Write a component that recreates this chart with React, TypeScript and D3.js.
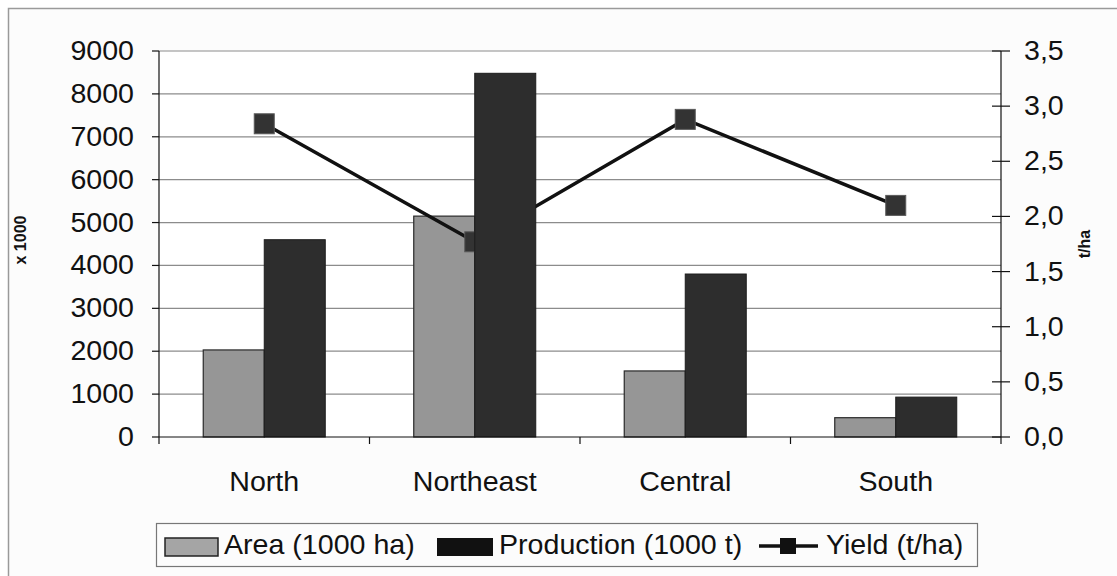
import * as d3 from "d3";

const categories = ["North", "Northeast", "Central", "South"];
const areaValues = [2030, 5150, 1540, 450];
const productionValues = [4600, 8480, 3800, 930];
const yieldValues = [2.84, 1.77, 2.88, 2.1];
const leftTicks = [0, 1000, 2000, 3000, 4000, 5000, 6000, 7000, 8000, 9000];
const rightTicks = [0, 0.5, 1, 1.5, 2, 2.5, 3, 3.5];
const legendLabels = ["Area (1000 ha)", "Production (1000 t)", "Yield (t/ha)"];

const W = 1117;
const H = 576;
const left = 159;
const right = 1001;
const top = 51;
const bottom = 437;
const font = "'Liberation Sans', Arial, sans-serif";
const fs = 27.5;
const sx = 1.04;

// text stretched a little sideways, like the scanned original
const Txt = ({ x, y, anchor = "start", children }: { x: number; y: number; anchor?: string; children: any }) => (
  <text
    transform={`translate(${x},${y}) scale(${sx},1)`}
    textAnchor={anchor}
    fontFamily={font}
    fontSize={fs}
    fill="#111"
  >
    {children}
  </text>
);

export default function App() {
  const x = d3.scaleBand<string>().domain(categories).range([left, right]);
  const yL = d3.scaleLinear().domain([0, 9000]).range([bottom, top]);
  const yR = d3.scaleLinear().domain([0, 3.5]).range([bottom, top]);
  const barW = 61;
  const mid = (c: string) => x(c)! + x.bandwidth() / 2;

  const line = d3
    .line<number>()
    .x((_, i) => mid(categories[i]))
    .y((d) => yR(d));

  const fmtR = (v: number) => v.toFixed(1).replace(".", ",");

  return (
    <svg
      width={W}
      height={H}
      style={{ position: "absolute", left: 0, top: 0, display: "block" }}
    >
      <rect x={0} y={0} width={W} height={H} fill="#fff" />
      <rect x={8.5} y={8.5} width={W + 10} height={H + 10} fill="#fcfcfc" stroke="#9a9a9a" strokeWidth={1.5} />
      <rect x={left} y={top} width={right - left} height={bottom - top} fill="#fff" />

      {/* gridlines */}
      {leftTicks.slice(1).map((t) => (
        <line key={t} x1={left} x2={right} y1={yL(t)} y2={yL(t)} stroke="#8c8c8c" strokeWidth={1.2} />
      ))}

      {/* area bars */}
      {categories.map((c, i) => (
        <rect
          key={c}
          x={mid(c) - barW}
          y={yL(areaValues[i])}
          width={barW}
          height={bottom - yL(areaValues[i])}
          fill="#969696"
          stroke="#2a2a2a"
          strokeWidth={1.2}
        />
      ))}

      {/* yield line (the scan shows it passing behind the production bars) */}
      <path d={line(yieldValues) || ""} fill="none" stroke="#111" strokeWidth={3.5} />
      {yieldValues.map((v, i) => (
        <rect
          key={i}
          x={mid(categories[i]) - 10}
          y={yR(v) - 10}
          width={20}
          height={20}
          fill="#333"
          stroke="#5a5a5a"
          strokeWidth={1}
        />
      ))}

      {/* production bars */}
      {categories.map((c, i) => (
        <rect
          key={c}
          x={mid(c)}
          y={yL(productionValues[i])}
          width={barW}
          height={bottom - yL(productionValues[i])}
          fill="#2d2d2d"
          stroke="#1c1c1c"
          strokeWidth={1}
        />
      ))}

      {/* left axis */}
      <line x1={left} x2={left} y1={top} y2={bottom} stroke="#111" strokeWidth={1.2} />
      {leftTicks.map((t) => (
        <g key={t}>
          <line x1={left - 7} x2={left} y1={yL(t)} y2={yL(t)} stroke="#111" strokeWidth={1.2} />
          <Txt x={134} y={yL(t) + 9} anchor="end">
            {t}
          </Txt>
        </g>
      ))}
      <text
        transform={`translate(26, 240) rotate(-90)`}
        textAnchor="middle"
        fontFamily={font}
        fontSize={16}
        fontWeight="bold"
        fill="#111"
      >
        x 1000
      </text>

      {/* right axis */}
      <line x1={right} x2={right} y1={top} y2={bottom + 7} stroke="#111" strokeWidth={1.2} />
      {rightTicks.map((t) => (
        <g key={t}>
          <line x1={right - 9} x2={right + 9} y1={yR(t)} y2={yR(t)} stroke="#111" strokeWidth={1.2} />
          <Txt x={1024} y={yR(t) + 9}>
            {fmtR(t)}
          </Txt>
        </g>
      ))}
      <text
        transform={`translate(1090, 244) rotate(-90)`}
        textAnchor="middle"
        fontFamily={font}
        fontSize={16}
        fontWeight="bold"
        fill="#111"
      >
        t/ha
      </text>

      {/* bottom axis */}
      <line x1={left} x2={right} y1={bottom} y2={bottom} stroke="#111" strokeWidth={1.2} />
      {categories.map((c) => (
        <g key={c}>
          <line x1={x(c)!} x2={x(c)!} y1={bottom} y2={bottom + 7} stroke="#111" strokeWidth={1.2} />
          <Txt x={mid(c)} y={491} anchor="middle">
            {c}
          </Txt>
        </g>
      ))}

      {/* legend */}
      <rect x={156.5} y={523.5} width={821} height={43} fill="#fcfcfc" stroke="#777" strokeWidth={1.2} />
      <rect x={165} y={538} width={53} height={18} fill="#a5a5a5" stroke="#222" strokeWidth={1.5} />
      <Txt x={224} y={554}>{legendLabels[0]}</Txt>
      <rect x={437} y={538} width={56} height={18} fill="#111" />
      <Txt x={499} y={554}>{legendLabels[1]}</Txt>
      <line x1={759} x2={818} y1={546} y2={546} stroke="#111" strokeWidth={3.5} />
      <rect x={780} y={538} width={16} height={16} fill="#111" />
      <Txt x={826} y={554}>{legendLabels[2]}</Txt>
    </svg>
  );
}
